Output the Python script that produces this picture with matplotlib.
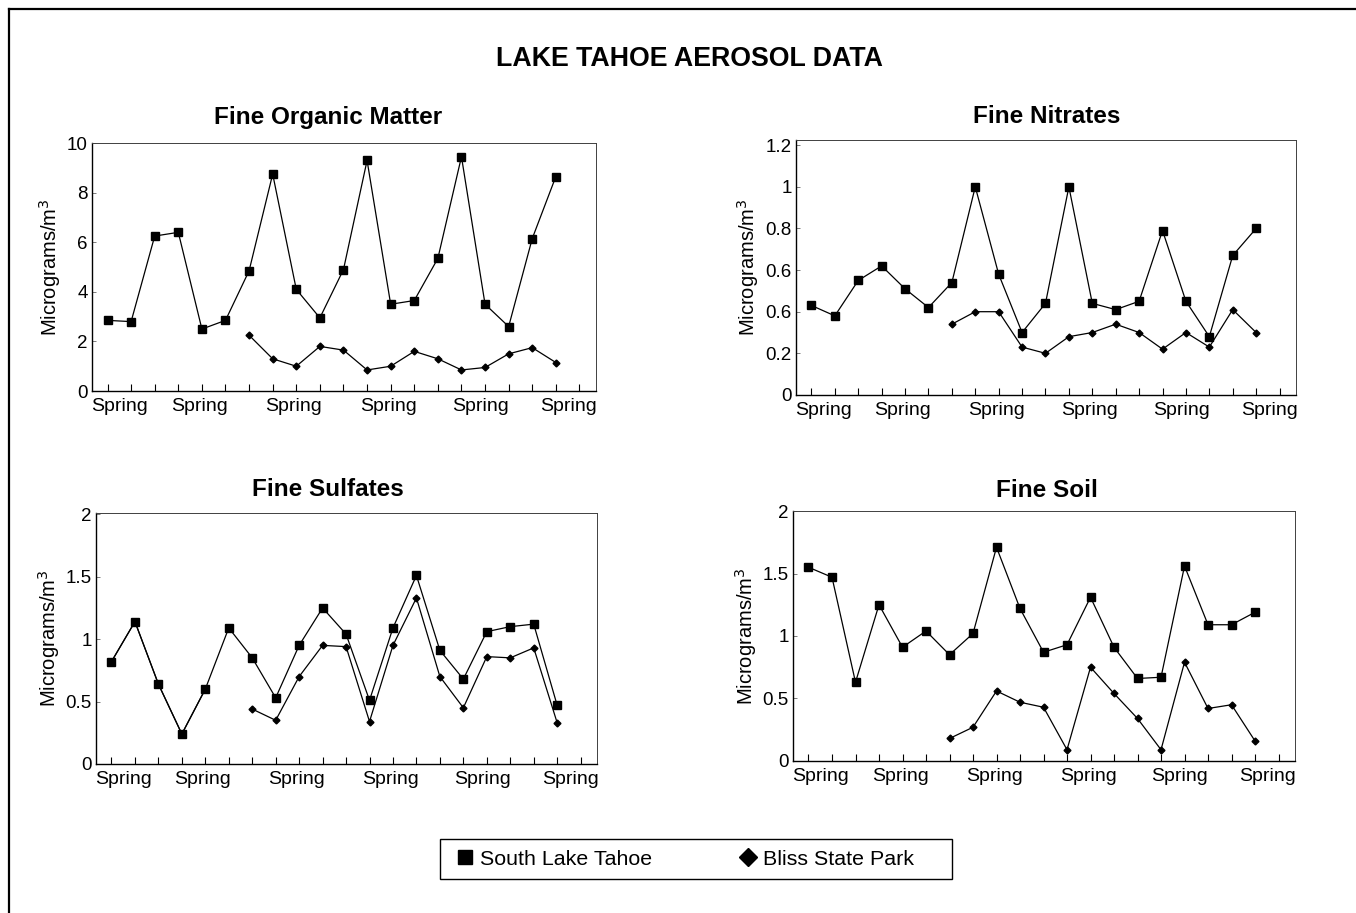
import numpy as np
import matplotlib.pyplot as plt
from matplotlib.lines import Line2D
from matplotlib.patches import Rectangle

plt.rcParams['font.family'] = ['Liberation Sans', 'DejaVu Sans']

nan = np.nan
x = np.arange(20)

# seasonal samples, one per quarter
organic_slt = [2.85, 2.8, 6.25, 6.4, 2.5, 2.85, 4.85, 8.75, 4.1, 2.95,
               4.9, 9.3, 3.5, 3.65, 5.35, 9.45, 3.5, 2.6, 6.15, 8.65]
organic_bliss = [nan] * 6 + [2.25, 1.3, 1.0, 1.8, 1.65, 0.85, 1.0, 1.6,
                             1.3, 0.85, 0.95, 1.5, 1.75, 1.15]

nitrate_slt = [0.43, 0.38, 0.55, 0.62, 0.51, 0.42, 0.54, 1.0, 0.58, 0.30,
               0.44, 1.0, 0.44, 0.41, 0.45, 0.79, 0.45, 0.28, 0.67, 0.80]
nitrate_bliss = [nan] * 6 + [0.34, 0.40, 0.40, 0.23, 0.20, 0.28, 0.30, 0.34,
                             0.30, 0.22, 0.30, 0.23, 0.41, 0.30]

sulfate_slt = [0.82, 1.14, 0.64, 0.24, 0.60, 1.09, 0.85, 0.53, 0.95, 1.25,
               1.04, 0.51, 1.09, 1.51, 0.91, 0.68, 1.06, 1.10, 1.12, 0.47]
sulfate_bliss = [0.82, 1.14, 0.64, 0.24, 0.60, nan, 0.44, 0.35, 0.70, 0.95,
                 0.94, 0.34, 0.95, 1.33, 0.70, 0.45, 0.86, 0.85, 0.93, 0.33]

soil_slt = [1.55, 1.47, 0.63, 1.25, 0.91, 1.04, 0.85, 1.02, 1.71, 1.22,
            0.87, 0.93, 1.31, 0.91, 0.66, 0.67, 1.56, 1.09, 1.09, 1.19]
soil_bliss = [nan] * 6 + [0.18, 0.27, 0.56, 0.47, 0.43, 0.09, 0.75, 0.54,
                          0.34, 0.09, 0.79, 0.42, 0.45, 0.16]

spring_pos = [0.5, 3.9, 7.9, 11.9, 15.8, 19.55]
spring_lab = ['Spring'] * 6

fig = plt.figure(figsize=(13.56, 9.13), dpi=100)

panels = [
    ('Fine Organic Matter', organic_slt, organic_bliss, (0, 10),
     [0, 2, 4, 6, 8, 10], ['0', '2', '4', '6', '8', '10'],
     [0.0678, 0.5717, 0.3717, 0.2716], 0.468, 14, -0.058),
    ('Fine Nitrates', nitrate_slt, nitrate_bliss, (0, 1.225),
     [0, 0.2, 0.4, 0.6, 0.8, 1.0, 1.2],
     ['0', '0.2', '0.6', '0.6', '0.8', '1', '1.2'],
     [0.5870, 0.5674, 0.3687, 0.2793], 0.502, 12, -0.07),
    ('Fine Sulfates', sulfate_slt, sulfate_bliss, (0, 2.01),
     [0, 0.5, 1, 1.5, 2], ['0', '0.5', '1', '1.5', '2'],
     [0.0708, 0.1632, 0.3695, 0.2749], 0.463, 12, -0.068),
    ('Fine Soil', soil_slt, soil_bliss, (0, 2.0),
     [0, 0.5, 1, 1.5, 2], ['0', '0.5', '1', '1.5', '2'],
     [0.5848, 0.1665, 0.3702, 0.2738], 0.506, 10, -0.067),
]

for title, slt, bliss, ylim, yt, ytl, rect, tx, tpad, lx in panels:
    ax = fig.add_axes(rect)
    ax.plot(x, slt, color='black', lw=0.9, marker='s', ms=5.8)
    ax.plot(x, bliss, color='black', lw=0.9, marker='D', ms=3.5)
    ax.set_xlim(-0.66, 20.7)
    ax.set_ylim(*ylim)
    ax.set_yticks(yt)
    ax.set_yticklabels(ytl)
    ax.set_xticks(spring_pos)
    ax.set_xticklabels(spring_lab)
    ax.set_xticks(np.arange(21), minor=True)
    ax.tick_params(axis='x', which='major', length=0, pad=5, labelsize=14)
    ax.tick_params(axis='x', which='minor', direction='in', length=5,
                   width=0.8)
    ax.tick_params(axis='y', direction='in', length=3, width=0.6,
                   labelsize=13.5, pad=3, color='0.4')
    for side in ['left', 'bottom']:
        ax.spines[side].set_linewidth(1.0)
    for side in ['top', 'right']:
        ax.spines[side].set_linewidth(0.7)
        ax.spines[side].set_color('0.25')
    ax.set_ylabel('Micrograms/m$^3$', fontsize=14.5)
    ax.yaxis.set_label_coords(lx, 0.5)
    ax.set_title(title, fontsize=17.5, fontweight='bold', x=tx, pad=tpad)

fig.text(0.5085, 0.935, 'LAKE TAHOE AEROSOL DATA', ha='center', va='center',
         fontsize=19.3, fontweight='bold')

# frame lines along the top and left of the page
fig.add_artist(Line2D([0.0063, 0.0063], [0.0, 0.990], color='black', lw=1.6))
fig.add_artist(Line2D([0.0063, 1.0], [0.990, 0.990], color='black', lw=1.6))

# legend box, entries placed inside it
fig.add_artist(Rectangle((440 / 1356, 1 - 879 / 913), 512 / 1356, 40 / 913,
                         transform=fig.transFigure, fill=False,
                         edgecolor='black', lw=1.0))
handles = [Line2D([], [], color='black', marker='s', ls='none', ms=10),
           Line2D([], [], color='black', marker='D', ls='none', ms=9)]
fig.legend(handles, ['South Lake Tahoe', 'Bliss State Park'],
           loc='center left', bbox_to_anchor=(454 / 1356, 1 - 859 / 913),
           ncol=2, fontsize=15.4, frameon=False, borderaxespad=0,
           borderpad=0, handlelength=1.0, handletextpad=0.2,
           columnspacing=4.0)

fig.savefig('out.png', dpi=100)
